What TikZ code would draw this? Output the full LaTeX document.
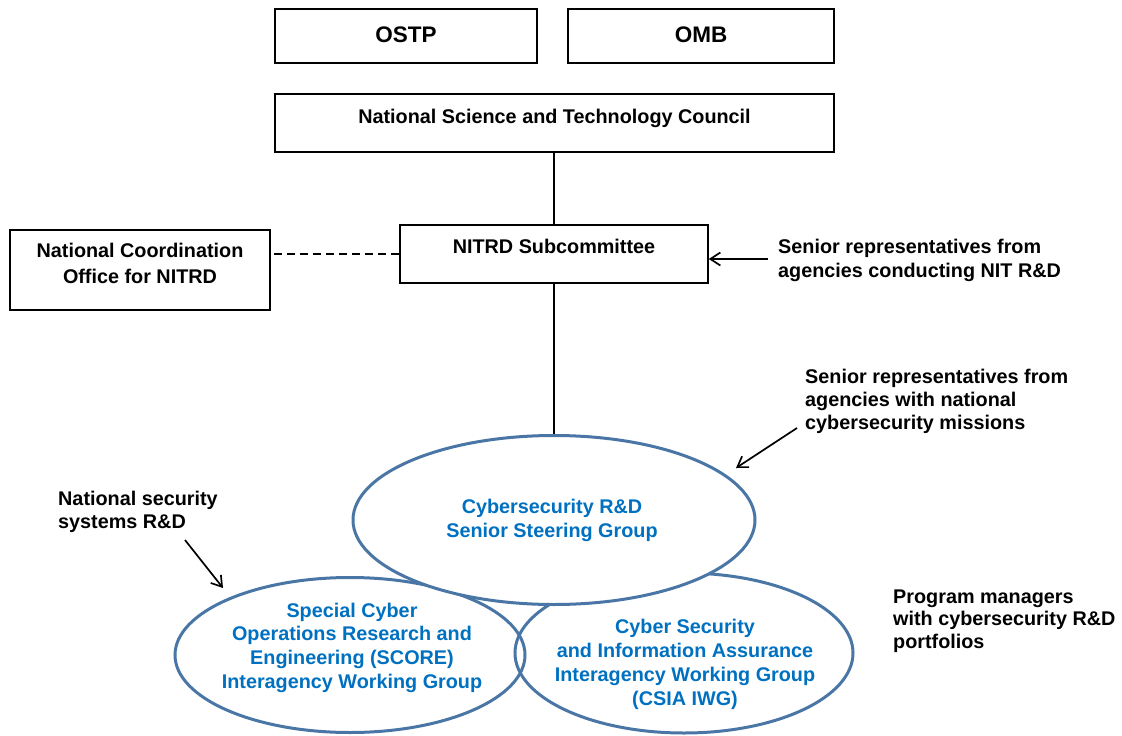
\documentclass[tikz,border=0pt]{standalone}
\usepackage{fontspec}
\setmainfont{Liberation Sans}
\usetikzlibrary{shapes.geometric,arrows.meta}
\definecolor{ellblue}{RGB}{74,118,166}
\definecolor{txtblue}{RGB}{0,112,192}
\begin{document}
\begin{tikzpicture}[x=1pt,y=-1pt,
  every node/.style={font=\fontsize{19.8}{24}\selectfont\bfseries},
  box/.style={draw, line width=1.6pt, inner sep=0pt, align=center},
  bigtext/.style={font=\fontsize{22.5}{26}\selectfont\bfseries},
  ell/.style={draw=ellblue, ellipse, line width=3pt, inner sep=0pt},
  etext/.style={text=txtblue, align=center, anchor=north, inner sep=0pt, text height=14pt},
  side/.style={align=left, anchor=north west, inner sep=0pt, text height=14pt},
  conn/.style={line width=2pt},
  arr/.style={line width=1.7pt, -{Straight Barb[length=10pt,width=13pt]}}
]
\useasboundingbox (0,0) rectangle (1122,736);

% top boxes
\node[box, bigtext, minimum width=262pt, minimum height=54pt, text height=16pt, text depth=4pt] (ostp) at (406,36) {OSTP};
\node[box, bigtext, minimum width=266pt, minimum height=54pt, text height=16pt, text depth=4pt] (omb) at (701,36) {OMB};
\node[box, minimum width=559pt, minimum height=58pt, text height=14pt, text depth=14pt] (nstc) at (554.5,123) {National Science and Technology Council};
\node[box, minimum width=308pt, minimum height=58pt, text height=14pt, text depth=16pt] (nitrd) at (554,254) {NITRD Subcommittee};
\node[box, minimum width=260pt, minimum height=80pt, text height=30pt, text depth=4pt, font=\fontsize{19.8}{26}\selectfont\bfseries] (nco) at (140,270) {National Coordination\\Office for NITRD};

% ellipses
\node[ell, minimum width=350pt, minimum height=155pt] (score) at (350,655) {};
\node[ell, minimum width=338pt, minimum height=160pt] (csia) at (684,653) {};
\node[ell, fill=white, minimum width=402pt, minimum height=169pt] (ssg) at (554,520) {};

\node[etext] (ssgt) at (552,523) {Cybersecurity R\&D\\Senior Steering Group};
\node[etext, font=\fontsize{19.8}{23.7}\selectfont\bfseries] (scoret) at (352,674) {Special Cyber\\Operations Research and\\Engineering (SCORE)\\Interagency Working Group};
\node[etext] (csiat) at (685,691) {Cyber Security\\and Information Assurance\\Interagency Working Group\\(CSIA IWG)};

% side texts
\node[side] (t1) at (778,263) {Senior representatives from\\agencies conducting NIT R\&D};
\node[side, font=\fontsize{19.8}{23}\selectfont\bfseries] (t2) at (805,415) {Senior representatives from\\agencies with national\\cybersecurity missions};
\node[side, font=\fontsize{19.8}{23}\selectfont\bfseries] (t3) at (58,514) {National security\\systems R\&D};
\node[side, font=\fontsize{19.8}{22.5}\selectfont\bfseries] (t4) at (893,634) {Program managers\\with cybersecurity R\&D\\portfolios};

% connectors
\draw[conn] (nitrd.north |- nstc.south) -- (nitrd.north);
\draw[conn] (nitrd.south) -- (ssg.north);
\draw[conn, line width=1.8pt, dash pattern=on 8pt off 5pt] (nitrd.west) -- (nitrd.west -| nco.east);

\coordinate (a1) at (768,259);
\draw[arr] (a1) -- (a1 -| nitrd.east);
\coordinate (a2s) at (797,428);
\coordinate (a2e) at (736,468);
\draw[arr] (a2s) -- (a2e);
\coordinate (a3s) at (185,540);
\coordinate (a3e) at (223,588);
\draw[arr] (a3s) -- (a3e);
\end{tikzpicture}
\end{document}
